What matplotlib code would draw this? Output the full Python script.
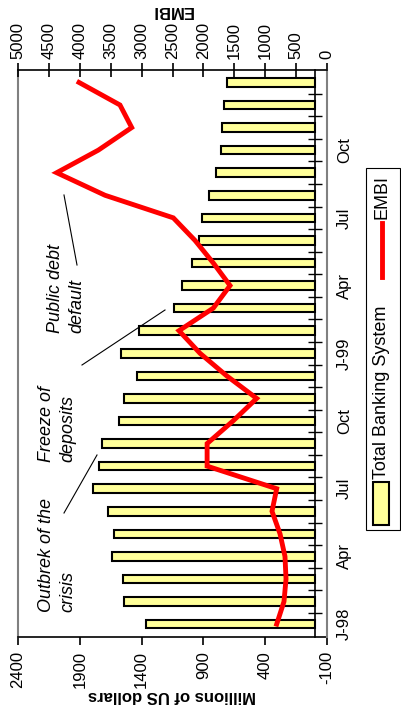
import numpy as np
import matplotlib
matplotlib.use('Agg')
import matplotlib.pyplot as plt
from matplotlib.patches import Rectangle
from matplotlib.lines import Line2D

plt.rcParams['font.family'] = ['Liberation Sans', 'DejaVu Sans']
narrow = ['Liberation Sans Narrow', 'Liberation Sans', 'DejaVu Sans']

# monthly data, Jan-98 .. Jan-00
months = ['Jan-98', 'Feb-98', 'Mar-98', 'Apr-98', 'May-98', 'Jun-98', 'Jul-98',
          'Aug-98', 'Sep-98', 'Oct-98', 'Nov-98', 'Dec-98', 'Jan-99', 'Feb-99',
          'Mar-99', 'Apr-99', 'May-99', 'Jun-99', 'Jul-99', 'Aug-99', 'Sep-99',
          'Oct-99', 'Nov-99', 'Dec-99', 'Jan-00']
deposits = [1367, 1545, 1550, 1642, 1626, 1669, 1796, 1747, 1723, 1580, 1542, 1435,
            1567, 1424, 1135, 1076, 992, 936, 911, 855, 800, 760, 750, 731, 711]
embi = [814, 696, 663, 680, 760, 890, 814, 1940, 1940, 1521, 1138, 1623,
        2055, 2395, 1840, 1569, 1840, 2136, 2487, 3592, 4374, 3700, 3160, 3350, 4013]

month_ticks = ['Jan-98', 'Apr-98', 'Jul-98', 'Oct-98', 'Jan-99', 'Apr-99', 'Jul-99', 'Oct-99']
month_labels = ['J-98', 'Apr', 'Jul', 'Oct', 'J-99', 'Apr', 'Jul', 'Oct']
dep_ticks = [2400, 1900, 1400, 900, 400, -100]
embi_ticks = [5000, 4500, 4000, 3500, 3000, 2500, 2000, 1500, 1000, 500, 0]

events = ['Outbrek of the\ncrisis', 'Freeze of\ndeposits', 'Public debt\ndefault']

W, H = 401, 711
AX_L, AX_R, AX_T, AX_B = 18, 327, 70, 637


def fig_xy(px, py):
    return px / W, 1 - py / H


def ax_xy(px, py):
    return (px - AX_L) / (AX_R - AX_L), (AX_B - py) / (AX_B - AX_T)


fig = plt.figure(figsize=(W / 100, H / 100), dpi=100)
ax = fig.add_axes([AX_L / W, 1 - AX_B / H, (AX_R - AX_L) / W, (AX_B - AX_T) / H])

pos = np.arange(len(months))
ax.barh(pos, deposits, height=0.38, color='#ffff99', edgecolor='black', linewidth=1.5, zorder=2)
ax.set_xlim(2400, -100)
ax.set_ylim(-0.57, len(months) - 0.45)

ax.set_xticks(dep_ticks)
ax.set_xticklabels([str(v) for v in dep_ticks], rotation=90, fontsize=12)
ax.tick_params(axis='x', direction='out', length=6, width=1.2, pad=4)
ax.set_xlabel('Millions of US dollars', rotation=180, fontweight='bold', fontsize=12)
ax.xaxis.set_label_coords(0.5, ax_xy(0, 688)[1])

# month axis sits on the zero line
ax.yaxis.tick_right()
ax.spines['right'].set_position(('data', 0))
ax.spines['right'].set_linewidth(1.2)
ax.spines['right'].set_zorder(3)
ax.set_yticks([months.index(m) for m in month_ticks])
ax.set_yticklabels(month_labels, rotation=90, va='center', fontsize=12)
ax.set_yticks(pos[:-1] + 0.5, minor=True)
ax.tick_params(axis='y', which='major', length=0, pad=16)
ax.tick_params(axis='y', which='minor', direction='inout', length=10, width=1)
ax.spines['top'].set_visible(False)
ax.spines['left'].set_color('#808080')
ax.spines['left'].set_linewidth(1.5)
ax.spines['bottom'].set_linewidth(1.2)

ax2 = ax.twiny()
ax2.plot(embi, pos, color='#ff0000', linewidth=3.5, solid_joinstyle='miter', zorder=4)
ax2.set_xlim(5000, 0)
ax2.set_xticks(embi_ticks)
ax2.set_xticklabels([str(v) for v in embi_ticks], rotation=90, fontsize=12)
ax2.tick_params(axis='x', direction='inout', length=10, width=1.2, pad=3)
ax2.set_xlabel('EMBI', rotation=180, fontweight='bold', fontsize=12)
ax2.xaxis.set_label_coords(0.5, ax_xy(0, 15)[1])
ax2.spines['top'].set_linewidth(1.2)
ax2.spines['right'].set_color('#808080')
ax2.spines['right'].set_linewidth(1.5)
ax2.spines['left'].set_visible(False)
ax2.spines['bottom'].set_visible(False)

# event notes
note_pos = [(57, 612), (57, 462), (66, 333)]
note_lines = [((64, 513), (97, 455)), ((82, 365), (165, 310)), ((77, 265), (64, 195))]
for txt, (px, py), (p0, p1) in zip(events, note_pos, note_lines):
    ax.text(*ax_xy(px, py), txt, transform=ax.transAxes, rotation=90, ha='center', va='bottom',
            multialignment='left', style='italic', fontsize=13, family=narrow, linespacing=1.35)
    a, b = ax_xy(*p0), ax_xy(*p1)
    ax.plot([a[0], b[0]], [a[1], b[1]], transform=ax.transAxes, color='black', linewidth=0.8)

# legend, drawn rotated like the rest of the chart
x0, y0 = fig_xy(366, 530)
x1, y1 = fig_xy(400, 168)
fig.add_artist(Rectangle((x0, y0), x1 - x0, y1 - y0, transform=fig.transFigure,
                         fill=False, edgecolor='black', linewidth=0.8))
x0, y0 = fig_xy(373, 525)
x1, y1 = fig_xy(389, 482)
fig.add_artist(Rectangle((x0, y0), x1 - x0, y1 - y0, transform=fig.transFigure,
                         facecolor='#ffff99', edgecolor='black', linewidth=1.5))
fig.text(*fig_xy(382, 479), 'Total Banking System', rotation=90, ha='center', va='bottom',
         fontsize=13, family=narrow)
a, b = fig_xy(382, 277), fig_xy(382, 223)
fig.add_artist(Line2D([a[0], b[0]], [a[1], b[1]], transform=fig.transFigure,
                      color='#ff0000', linewidth=3.5))
fig.text(*fig_xy(382, 219), 'EMBI', rotation=90, ha='center', va='bottom',
         fontsize=13, family=narrow)

fig.savefig('out.png', dpi=100)
